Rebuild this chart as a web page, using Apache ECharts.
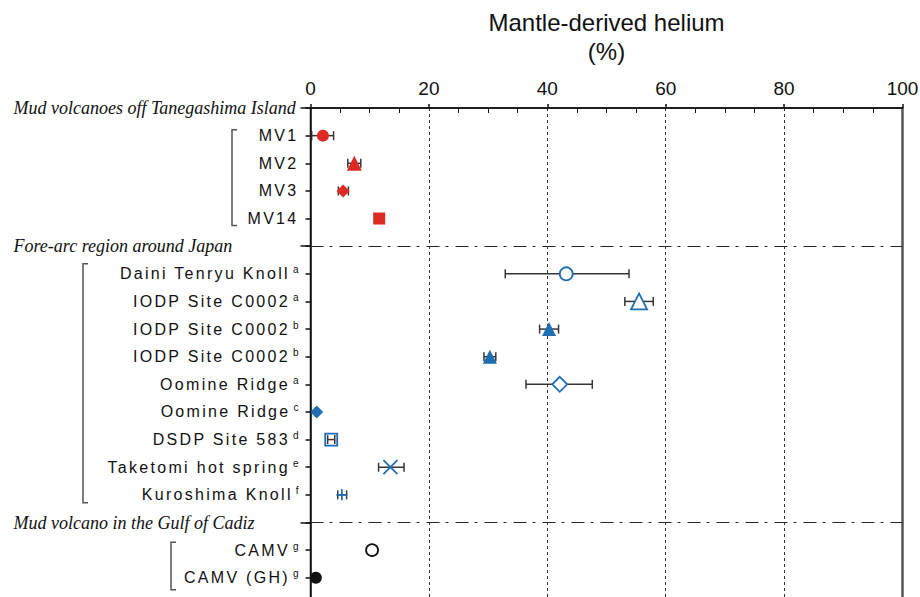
<!DOCTYPE html>
<html>
<head>
<meta charset="utf-8">
<script src="https://cdn.jsdelivr.net/npm/echarts@6/dist/echarts.min.js"></script>
<style>
  html, body { margin: 0; padding: 0; background: #fff; }
  #main { width: 920px; height: 597px; }
  /* sample names are set with wide letter spacing in the figure */
  #main text[style*="Liberation Sans"] { letter-spacing: 2.3px; }
</style>
</head>
<body>
<div id="main"></div>
<script>
// rows of the y axis, top to bottom (0, 5, 15 are group headers)
var rowNames = ['Mud volcanoes off Tanegashima Island', 'MV1', 'MV2', 'MV3', 'MV14',
	'Fore-arc region around Japan', 'Daini Tenryu Knoll', 'IODP Site C0002', 'IODP Site C0002',
	'IODP Site C0002', 'Oomine Ridge', 'Oomine Ridge', 'DSDP Site 583', 'Taketomi hot spring',
	'Kuroshima Knoll', 'Mud volcano in the Gulf of Cadiz', 'CAMV', 'CAMV (GH)'];
var refMarks = ['', '', '', '', '', '', 'a', 'a', 'b', 'b', 'a', 'c', 'd', 'e', 'f', '', 'g', 'g'];
var headerRows = [0, 5, 15];

// mantle-derived helium (%)
var pointRows = [1, 2, 3, 4, 6, 7, 8, 9, 10, 11, 12, 13, 14, 16, 17];
var heliumValues = [2.1, 7.4, 5.5, 11.6, 43.2, 55.5, 40.3, 30.3, 42.1, 1.05, 3.5, 13.5, 5.3, 10.4, 0.9];

// error bars
var errorRows = [1, 2, 3, 6, 7, 8, 9, 10, 12, 13, 14];
var errorLow = [0.2, 6.3, 4.7, 32.9, 53.1, 38.7, 29.3, 36.4, 2.9, 11.5, 4.6];
var errorHigh = [3.9, 8.5, 6.4, 53.8, 57.9, 41.9, 31.3, 47.6, 4.1, 15.8, 6.1];

var xTicks = [0, 20, 40, 60, 80, 100];

var RED = '#dd2a22', BLUE = '#1f6eb4', INK = '#111';
var CROSS = 'path://M0,0L10,10M10,0L0,10';
var PLUS = 'path://M5,0L5,10M0,5L10,5';

// one marker style per point, same order as pointRows
var markerStyles = [
	{symbol: 'circle', size: 12, color: RED},
	{symbol: 'triangle', size: 15, color: RED},
	{symbol: 'diamond', size: 13, color: RED},
	{symbol: 'rect', size: 12, color: RED},
	{symbol: 'circle', size: 13, color: BLUE, fill: '#fff'},
	{symbol: 'triangle', size: 16, color: BLUE, fill: '#fff'},
	{symbol: 'triangle', size: 14, color: BLUE},
	{symbol: 'triangle', size: 14, color: BLUE},
	{symbol: 'diamond', size: 15, color: BLUE, fill: '#fff'},
	{symbol: 'diamond', size: 13, color: BLUE},
	{symbol: 'rect', size: 12, color: BLUE, fill: 'transparent'},
	{symbol: CROSS, size: 14, color: BLUE, fill: 'none'},
	{symbol: PLUS, size: 11, color: BLUE, fill: 'none'},
	{symbol: 'circle', size: 12, color: INK, fill: '#fff'},
	{symbol: 'circle', size: 12, color: INK}
];

// brackets grouping the samples (decoration left of the labels)
var brackets = [
	{from: 1, to: 4, x: 232, padTop: 6, padBottom: 7},
	{from: 6, to: 14, x: 83, padTop: 10, padBottom: 8},
	{from: 16, to: 17, x: 171, padTop: 8, padBottom: 12}
];

// category ids, one extra empty row so the axis runs off the bottom
var rowIds = rowNames.map(function(n, i) { return 'r' + i; });
rowIds.push('r' + rowNames.length);

function isHeader(i) {
	return headerRows.indexOf(i) >= 0;
}

var scatterData = pointRows.map(function(row, i) {
	var m = markerStyles[i];
	return {
		value: [heliumValues[i], row],
		symbol: m.symbol,
		symbolSize: m.size,
		itemStyle: m.fill ? {color: m.fill, borderColor: m.color, borderWidth: 1.8, opacity: 1} : {color: m.color, borderWidth: 0, opacity: 1}
	};
});

var errorData = errorRows.map(function(row, i) {
	return [errorLow[i], errorHigh[i], row];
});

var axisLineStyle = {color: INK, width: 1.5};

var chart = echarts.init(document.getElementById('main'), null, {renderer: 'svg'});

var option = {
	animation: false,
	backgroundColor: '#fff',
	grid: {
		left: 310.5, right: 17.5, top: 108, bottom: -8.4,
		containLabel: false, outerBoundsMode: 'none'
	},
	xAxis: [{
		type: 'value',
		position: 'top',
		min: xTicks[0],
		max: xTicks[xTicks.length - 1],
		interval: xTicks[1] - xTicks[0],
		name: 'Mantle-derived helium\n(%)',
		nameLocation: 'middle',
		nameGap: 42,
		nameTextStyle: {fontFamily: 'Arial', fontSize: 24, lineHeight: 29, color: INK},
		axisLine: {show: true, onZero: false, lineStyle: axisLineStyle},
		axisTick: {inside: true, length: 7, lineStyle: {color: INK, width: 1.5}},
		minorTick: {show: true, splitNumber: 4, length: 5, lineStyle: {color: INK, width: 1}},
		axisLabel: {fontFamily: 'Arial', fontSize: 19, color: INK, margin: 10},
		splitLine: {show: true, lineStyle: {type: [3, 3], color: '#333', width: 1}}
	}, {
		// upper half of the major ticks
		type: 'value',
		position: 'top',
		min: xTicks[0],
		max: xTicks[xTicks.length - 1],
		interval: xTicks[1] - xTicks[0],
		axisLine: {show: false, onZero: false},
		axisTick: {show: true, inside: false, length: 4, lineStyle: {color: INK, width: 1.5}},
		axisLabel: {show: false},
		splitLine: {show: false}
	}],
	yAxis: [{
		type: 'category',
		data: rowIds,
		inverse: true,
		boundaryGap: false,
		position: 'left',
		axisLine: {show: true, onZero: false, lineStyle: axisLineStyle},
		axisTick: {interval: 0, length: 5, lineStyle: {color: INK, width: 1.5}},
		splitLine: {show: false},
		axisLabel: {
			interval: 0,
			margin: 12,
			color: INK,
			formatter: function(value, index) {
				if (index >= rowNames.length) return '';
				if (isHeader(index)) return '{h|' + rowNames[index] + '}';
				return '{n|' + rowNames[index] + '}' + (refMarks[index] ? '{s|' + refMarks[index] + '}' : '');
			},
			rich: {
				h: {fontFamily: 'Liberation Serif', fontStyle: 'italic', fontSize: 18, width: 285, align: 'left', color: INK},
				n: {fontFamily: 'Liberation Sans', fontSize: 16, color: INK},
				s: {fontFamily: 'Arial', fontSize: 10, color: INK, padding: [0, 0, 8, 3]}
			}
		}
	}, {
		// longer ticks at the group headers
		type: 'category',
		data: rowIds,
		inverse: true,
		boundaryGap: false,
		position: 'left',
		axisLine: {show: false, onZero: false},
		axisTick: {
			interval: function(index) { return isHeader(index); },
			length: 10,
			lineStyle: {color: INK, width: 1.5}
		},
		axisLabel: {show: false},
		splitLine: {show: false}
	}, {
		// right frame at 100 %
		type: 'category',
		data: rowIds,
		inverse: true,
		boundaryGap: false,
		position: 'right',
		axisLine: {show: true, onZero: false, lineStyle: {color: '#555', width: 2.5}},
		axisTick: {show: false},
		axisLabel: {show: false},
		splitLine: {show: false}
	}],
	series: [{
		name: 'error',
		type: 'custom',
		z: 3,
		encode: {x: [0, 1], y: 2},
		data: errorData,
		renderItem: function(params, api) {
			var y = api.value(2);
			var a = api.coord([api.value(0), y]);
			var b = api.coord([api.value(1), y]);
			var h = 4.5;
			var st = {stroke: '#3a3535', lineWidth: 1.5};
			return {
				type: 'group',
				children: [
					{type: 'line', shape: {x1: a[0], y1: a[1], x2: b[0], y2: b[1]}, style: st},
					{type: 'line', shape: {x1: a[0], y1: a[1] - h, x2: a[0], y2: a[1] + h}, style: st},
					{type: 'line', shape: {x1: b[0], y1: b[1] - h, x2: b[0], y2: b[1] + h}, style: st}
				]
			};
		}
	}, {
		name: 'helium',
		type: 'scatter',
		z: 4,
		itemStyle: {opacity: 1},
		data: scatterData,
		//分组点划线
		markLine: {
			silent: true,
			symbol: ['none', 'none'],
			label: {show: false},
			lineStyle: {type: [13, 6, 3, 7], color: '#2e2626', width: 1.2, opacity: 1},
			data: [{yAxis: 'r5'}, {yAxis: 'r15'}]
		}
	}]
};

try {
	chart.setOption(option);
} catch (e) {
	console.error(e.stack);
}

// brackets beside the labels
var graphics = brackets.map(function(b) {
	var y1 = chart.convertToPixel({yAxisIndex: 0}, 'r' + b.from) - b.padTop;
	var y2 = chart.convertToPixel({yAxisIndex: 0}, 'r' + b.to) + b.padBottom;
	return {
		type: 'polyline',
		silent: true,
		shape: {points: [[b.x + 5, y1], [b.x, y1], [b.x, y2], [b.x + 5, y2]]},
		style: {stroke: '#555', lineWidth: 1.5, fill: null}
	};
});

// top and left frame lines, placed from the axes
var x0 = chart.convertToPixel({xAxisIndex: 0}, xTicks[0]);
var x1 = chart.convertToPixel({xAxisIndex: 0}, xTicks[xTicks.length - 1]);
var yTop = chart.convertToPixel({yAxisIndex: 0}, 'r0');
graphics.push({
	type: 'polyline',
	silent: true,
	z: 50,
	shape: {points: [[x1, yTop], [x0, yTop], [x0, chart.getHeight() + 2]]},
	style: {stroke: INK, lineWidth: 1.5, fill: null}
});
chart.setOption({graphic: graphics});
</script>
</body>
</html>
